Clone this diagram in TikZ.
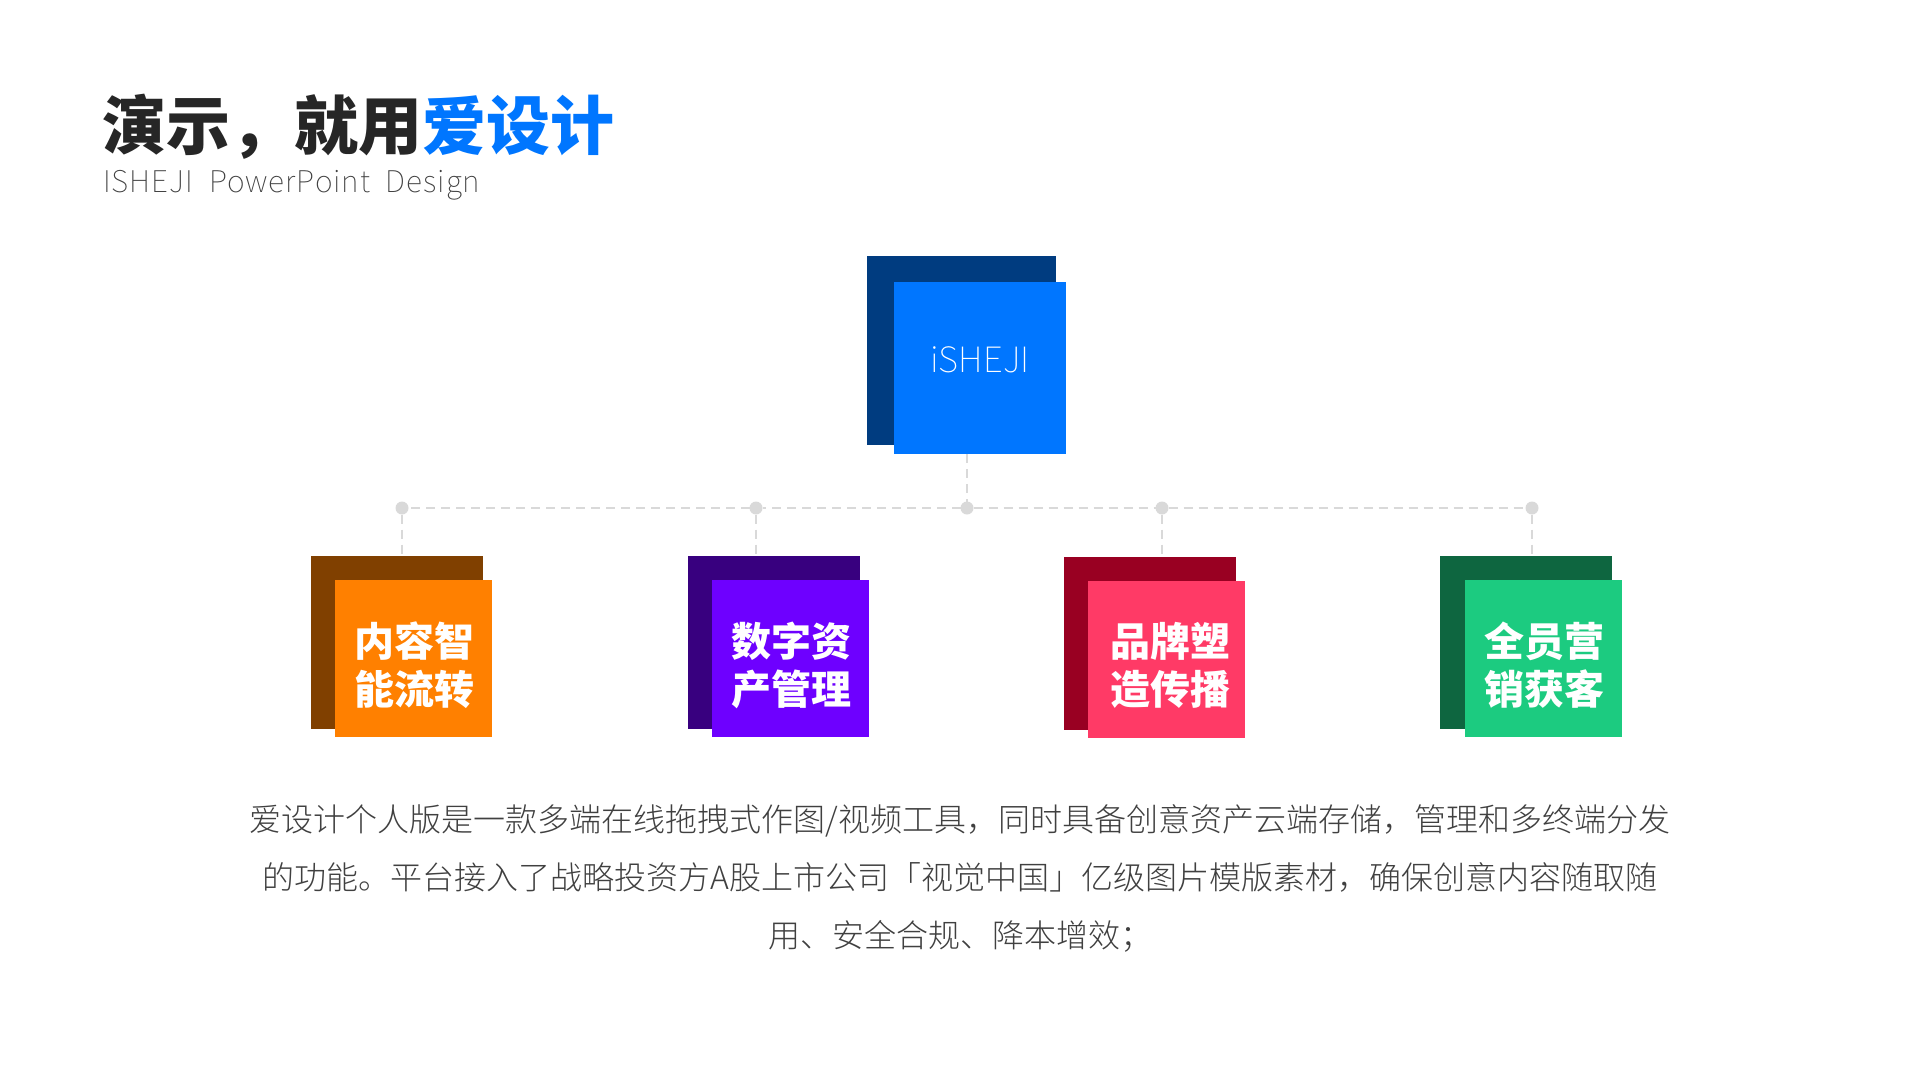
\documentclass[tikz,border=0pt]{standalone}
\usepackage{fontspec}
\setmainfont{Noto Sans CJK SC}
\newfontfamily\cjklight{Noto Sans CJK SC Light}
\newfontfamily\cjkthin{Noto Sans CJK SC Thin}
\newfontfamily\cjkblack{Noto Sans CJK SC Black}
\newfontfamily\sublight[LetterSpace=3.3]{Noto Sans CJK SC Thin}
\definecolor{titledark}{HTML}{262626}
\definecolor{brandblue}{HTML}{0076FF}
\definecolor{branddark}{HTML}{003C80}
\definecolor{orangef}{HTML}{FF8000}
\definecolor{orangeb}{HTML}{804000}
\definecolor{purplef}{HTML}{6E00FF}
\definecolor{purpleb}{HTML}{38007F}
\definecolor{pinkf}{HTML}{FF3A66}
\definecolor{pinkb}{HTML}{990022}
\definecolor{greenf}{HTML}{1CCB80}
\definecolor{greenb}{HTML}{0E6640}
\definecolor{linegray}{HTML}{D9D9D9}
\definecolor{bodygray}{HTML}{404040}
\tikzset{
  box/.style={inner sep=0pt,outer sep=0pt,anchor=center},
  backbox/.style={box,minimum width=172pt,minimum height=173pt},
  frontbox/.style={box,minimum width=157pt,minimum height=157pt},
  boxlabel/.style={inner sep=0pt,text=white,align=center,font=\cjkblack\fontsize{40}{48}\selectfont},
  dotnode/.style={circle,fill=linegray,inner sep=0pt,outer sep=0pt,minimum size=13pt},
  conn/.style={draw=linegray,line width=2.2pt,dash pattern=on 9pt off 6pt},
}
\begin{document}
\begin{tikzpicture}[x=1pt,y=-1pt]
\useasboundingbox (0,0) rectangle (1920,1080);
\node[inner sep=0pt,anchor=base west,font=\cjkblack\fontsize{64}{64}\selectfont] (title) at (102,149)
  {\color{titledark}演示，就用\color{brandblue}爱设计};
\node[inner sep=0pt,anchor=base west,text=bodygray,font=\sublight\fontsize{30}{30}\selectfont] (subtitle) at (103,192)
  {ISHEJI\hspace{8pt} PowerPoint\hspace{8pt} Design};
% dots
\node[dotnode] (d1) at (402,508) {};
\node[dotnode] (d2) at (756,508) {};
\node[dotnode] (d3) at (967,508) {};
\node[dotnode] (d4) at (1162,508) {};
\node[dotnode] (d5) at (1532,508) {};
% boxes
\node[box,fill=branddark,minimum width=189pt,minimum height=189pt] (topb) at (961.5,350.5) {};
\node[box,fill=brandblue,minimum width=172pt,minimum height=172pt] (topf) at (980,368) {};
\node[inner sep=0pt,text=white,font=\cjkthin\fontsize{35}{35}\selectfont] (toplabel) at (980,360) {iSHEJI};
\node[backbox,fill=orangeb] (b1) at (397,642.5) {};
\node[backbox,fill=purpleb] (b2) at (773.5,642.5) {};
\node[backbox,fill=pinkb] (b3) at (1150,643.5) {};
\node[backbox,fill=greenb] (b4) at (1526,642.5) {};
\node[frontbox,fill=orangef] (f1) at (413.5,658.5) {};
\node[frontbox,fill=purplef] (f2) at (790.5,658.5) {};
\node[frontbox,fill=pinkf] (f3) at (1166.5,659.5) {};
\node[frontbox,fill=greenf] (f4) at (1543,658.5) {};
\node[boxlabel] (t1) at (414,665.5) {内容智\\能流转};
\node[boxlabel] (t2) at (791.5,665.5) {数字资\\产管理};
\node[boxlabel] (t3) at (1170,665.5) {品牌塑\\造传播};
\node[boxlabel] (t4) at (1544.5,665.5) {全员营\\销获客};
% connectors
\draw[conn] (topf.south -| d3) -- (d3);
\draw[conn] (d3) -- (d2);
\draw[conn] (d2) -- (d1);
\draw[conn] (d3) -- (d4);
\draw[conn] (d4) -- (d5);
\draw[conn] (d1) -- (b1.north -| d1);
\draw[conn] (d2) -- (b2.north -| d2);
\draw[conn] (d4) -- (b3.north -| d4);
\draw[conn] (d5) -- (b4.north -| d5);
% body
\node[inner sep=0pt,align=center,text=bodygray,font=\cjklight\fontsize{32}{58}\selectfont] (body) at (960,878)
  {爱设计个人版是一款多端在线拖拽式作图/视频工具，同时具备创意资产云端存储，管理和多终端分发\\
   的功能。平台接入了战略投资方A股上市公司「视觉中国」亿级图片模版素材，确保创意内容随取随\\
   用、安全合规、降本增效；};
\end{tikzpicture}
\end{document}
